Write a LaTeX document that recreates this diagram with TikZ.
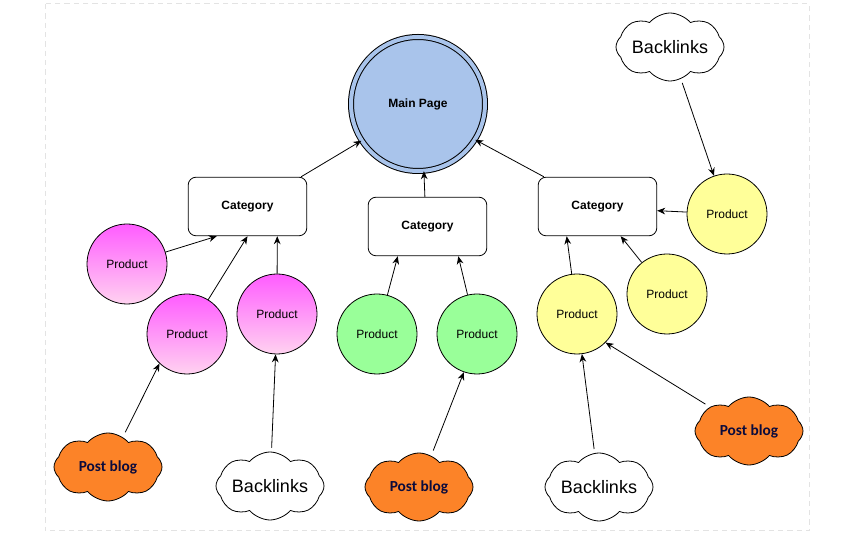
\documentclass[tikz,border=0pt]{standalone}
\usepackage{fontspec}
\setmainfont{Liberation Sans}
\newfontfamily\blogfont{Carlito}
\usetikzlibrary{arrows.meta, shapes.symbols}

\definecolor{pageblue}{HTML}{A9C4EB}
\definecolor{pinktop}{HTML}{FF5CFF}
\definecolor{pinkbot}{HTML}{FFD2F0}
\definecolor{prodgreen}{HTML}{99FF99}
\definecolor{prodyellow}{HTML}{FFFF99}
\definecolor{blogorange}{HTML}{FC8328}
\definecolor{blogtext}{HTML}{0B0B3C}

\tikzset{
  pinkprod/.style={top color=pinktop, bottom color=pinkbot},
  greenprod/.style={fill=prodgreen},
  yellowprod/.style={fill=prodyellow},
  catbox/.style={rectangle, draw, rounded corners=6pt, minimum width=89pt,
                 minimum height=44pt, font=\bfseries\fontsize{9}{11}\selectfont},
  puff/.style={cloud, cloud puffs=8, cloud puff arc=100, cloud ignores aspect,
               draw, inner sep=0pt, minimum width=81pt, minimum height=51pt},
  backlinks/.style={puff, fill=white, font=\fontsize{13.5}{16}\selectfont},
  postblog/.style={puff, fill=blogorange, text=blogtext,
                   font=\blogfont\bfseries\fontsize{11.5}{14}\selectfont}
}

\begin{document}
\begin{tikzpicture}[x=0.75pt, y=-0.75pt, line width=0.6pt]
\useasboundingbox (0,0) rectangle (861,555);
\draw [gray!22, line width=0.75pt, dash pattern=on 4pt off 3pt] (45,4) rectangle (809,531);

\node (M) [circle, draw, line width=0.75pt, fill=pageblue, double=pageblue,
           double distance=3pt, minimum size=100.5pt,
           font=\bfseries\fontsize{9}{11}\selectfont] at (418,104) {Main Page};

\node (C1) [catbox] at (247.5,206.5) {Category};
\node (C2) [catbox] at (427.5,226.5) {Category};
\node (C3) [catbox] at (597.5,206.5) {Category};

\begin{scope}[every node/.style={circle,draw,minimum size=60pt,inner sep=0pt,
                                 font=\fontsize{9}{11}\selectfont}]
    \node (P1) [pinkprod] at (127,264) {Product};
    \node (P2) [pinkprod] at (187,334) {Product};
    \node (P3) [pinkprod] at (277,314) {Product};

    \node (G1) [greenprod] at (377,334) {Product};
    \node (G2) [greenprod] at (477,334) {Product};

    \node (Y1) [yellowprod] at (577,314) {Product};
    \node (Y2) [yellowprod] at (667,294) {Product};
    \node (Y3) [yellowprod] at (727,214) {Product};
\end{scope}

\node (BL0) [backlinks] at (670,47) {Backlinks};
\node (BL1) [backlinks] at (270,486) {Backlinks};
\node (BL2) [backlinks] at (599,487) {Backlinks};

\node (PB1) [postblog] at (108,467) {Post blog};
\node (PB2) [postblog] at (419,487) {Post blog};
\node (PB3) [postblog] at (749,431) {Post blog};

\begin{scope}[>={Stealth[black, length=6pt, width=5pt]},
              every edge/.style={draw=black}]
    \path [->] (C1.29) edge (M.213);
    \path [->] (C2.95) edge (M.275);
    \path [->] (C3.151) edge (M.328);

    \path [->] (P1) edge (C1.224);
    \path [->] (P2) edge (C1.270);
    \path [->] (P3) edge (C1.315);
    \path [->] (G1) edge (C2.225);
    \path [->] (G2) edge (C2.316);
    \path [->] (Y1) edge (C3.224);
    \path [->] (Y2) edge (C3.308);
    \path [->] (Y3) edge (C3.356);

    \path [->, shorten <=3pt] (BL0) edge (Y3);
    \path [->, shorten <=4pt] (PB1) edge (P2.227);
    \path [->, shorten <=3pt] (BL1) edge (P3.268);
    \path [->, shorten <=4pt] (PB2) edge (G2.251);
    \path [->, shorten <=3pt] (BL2) edge (Y1.277);
    \path [->, shorten <=4pt] (PB3) edge (Y1.315);
%    \path [->] (PB3) edge (Y2);
\end{scope}
\end{tikzpicture}
\end{document}
